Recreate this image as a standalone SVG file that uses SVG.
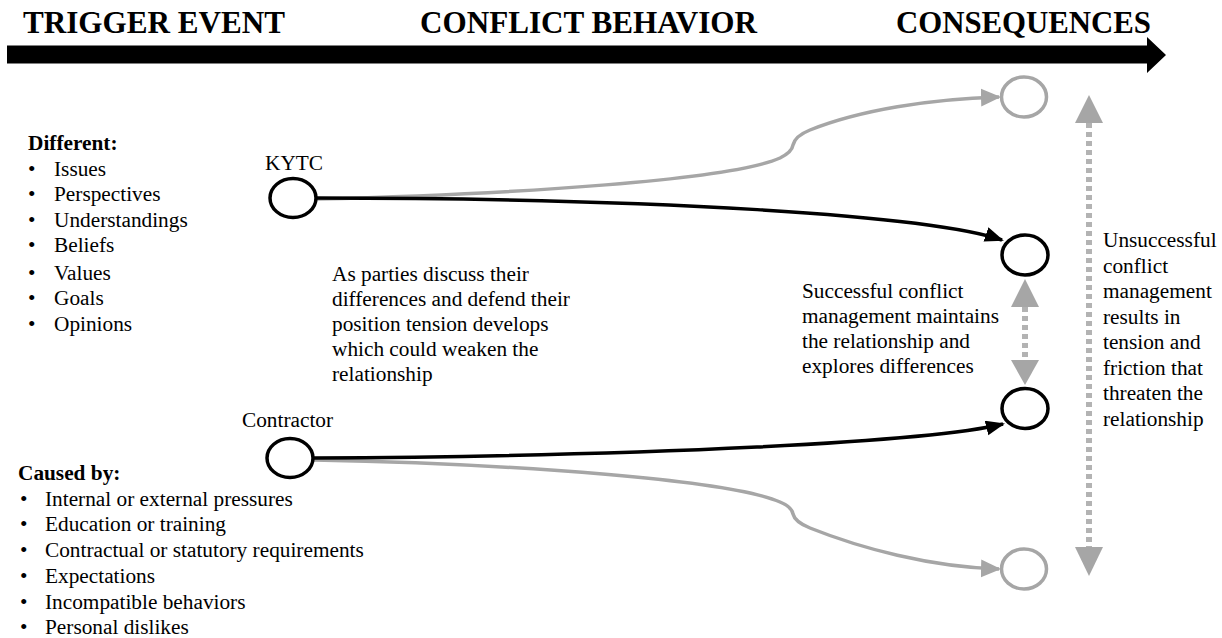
<svg xmlns="http://www.w3.org/2000/svg" width="1222" height="638" viewBox="0 0 1222 638">
<style>
  .t{font-family:"Liberation Serif","Times New Roman",serif;font-size:21.3px;fill:#000}
  .b{font-weight:bold}
  .h{font-family:"Liberation Serif","Times New Roman",serif;font-size:32px;font-weight:bold;fill:#000}
  .nb{fill:#fff;stroke:#000;stroke-width:3.5}
  .ng{fill:#fff;stroke:#a6a6a6;stroke-width:3.5}
  .lb{fill:none;stroke:#000;stroke-width:3.5}
  .lg{fill:none;stroke:#a6a6a6;stroke-width:3.5}
  .dot{fill:none;stroke:#b3b3b3;stroke-width:6;stroke-dasharray:5 4}
  .hd{fill:#a6a6a6}
</style>
<defs>
  <marker id="ab" markerUnits="userSpaceOnUse" markerWidth="20" markerHeight="16" refX="17" refY="7.5" orient="auto">
    <path d="M0,0 L19,7.5 L0,15 z" fill="#000"/>
  </marker>
  <marker id="ag" markerUnits="userSpaceOnUse" markerWidth="22" markerHeight="20" refX="18" refY="9" orient="auto">
    <path d="M0,0 L20,9 L0,18 z" fill="#a6a6a6"/>
  </marker>
</defs>

<g id="header">
  <text class="h" x="23" y="33" textLength="262" lengthAdjust="spacingAndGlyphs">TRIGGER EVENT</text>
  <text class="h" x="420" y="33" textLength="337" lengthAdjust="spacingAndGlyphs">CONFLICT BEHAVIOR</text>
  <text class="h" x="896" y="33" textLength="255" lengthAdjust="spacingAndGlyphs">CONSEQUENCES</text>
  <polygon points="7,45.5 1147,45.5 1147,37 1166,55 1147,73 1147,63.5 7,63.5" fill="#000"/>
</g>

<g id="different-list">
  <text class="t b" x="28" y="150">Different:</text>
  <g class="t">
    <text x="28" y="176">•</text><text x="54" y="176">Issues</text>
    <text x="28" y="201">•</text><text x="54" y="201">Perspectives</text>
    <text x="28" y="227">•</text><text x="54" y="227">Understandings</text>
    <text x="28" y="252">•</text><text x="54" y="252">Beliefs</text>
    <text x="28" y="280">•</text><text x="54" y="280">Values</text>
    <text x="28" y="305">•</text><text x="54" y="305">Goals</text>
    <text x="28" y="331">•</text><text x="54" y="331">Opinions</text>
  </g>
</g>

<g id="caused-list">
  <text class="t b" x="18" y="480">Caused by:</text>
  <g class="t">
    <text x="20" y="505.5">•</text><text x="45" y="505.5">Internal or external pressures</text>
    <text x="20" y="531">•</text><text x="45" y="531">Education or training</text>
    <text x="20" y="557">•</text><text x="45" y="557">Contractual or statutory requirements</text>
    <text x="20" y="583">•</text><text x="45" y="583">Expectations</text>
    <text x="20" y="608.5">•</text><text x="45" y="608.5">Incompatible behaviors</text>
    <text x="20" y="634">•</text><text x="45" y="634">Personal dislikes</text>
  </g>
</g>

<g id="connectors">
  <path class="lg" d="M316,199 C520,194 730,180 780,158 Q792,152 793,145 Q795,136 810,130 C860,110 930,99 999,97" marker-end="url(#ag)"/>
  <path class="lg" d="M314,460 C520,464 730,480 780,502 Q792,507 793,514 Q795,522 810,528 C860,548 930,567 999,569" marker-end="url(#ag)"/>
  <path class="lb" d="M316,198 C650,198 930,215 1002,240" marker-end="url(#ab)"/>
  <path class="lb" d="M313,458 C650,456 930,442 1003,424" marker-end="url(#ab)"/>
  <line class="dot" x1="1025" y1="307" x2="1025" y2="360"/>
  <polygon class="hd" points="1025,279 1011,307 1039,307"/>
  <polygon class="hd" points="1011,360 1039,360 1025,385"/>
  <line class="dot" x1="1089" y1="123" x2="1089" y2="547"/>
  <polygon class="hd" points="1089,95 1075,123 1103,123"/>
  <polygon class="hd" points="1075,547 1103,547 1089,576"/>
</g>

<g id="kytc">
  <ellipse class="nb" cx="293" cy="198" rx="23" ry="19.5"/>
  <text class="t" x="265" y="170">KYTC</text>
</g>
<g id="contractor">
  <ellipse class="nb" cx="290" cy="458" rx="23" ry="19.5"/>
  <text class="t" x="242" y="427">Contractor</text>
</g>
<g id="outcome-top">
  <ellipse class="ng" cx="1024" cy="97" rx="22.5" ry="20"/>
</g>
<g id="outcome-success-1">
  <ellipse class="nb" cx="1025" cy="255" rx="23" ry="20"/>
</g>
<g id="outcome-success-2">
  <ellipse class="nb" cx="1025" cy="408.5" rx="23" ry="20"/>
</g>
<g id="outcome-bottom">
  <ellipse class="ng" cx="1024" cy="569" rx="22.5" ry="20"/>
</g>

<g id="note-behavior" class="t">
  <text x="332" y="281">As parties discuss their</text>
  <text x="332" y="306">differences and defend their</text>
  <text x="332" y="331">position tension develops</text>
  <text x="332" y="356">which could weaken the</text>
  <text x="332" y="381">relationship</text>
</g>

<g id="note-success" class="t">
  <text x="802" y="298">Successful conflict</text>
  <text x="802" y="323">management maintains</text>
  <text x="802" y="348">the relationship and</text>
  <text x="802" y="373">explores differences</text>
</g>

<g id="note-unsuccessful" class="t">
  <text x="1103" y="247">Unsuccessful</text>
  <text x="1103" y="272.5">conflict</text>
  <text x="1103" y="298">management</text>
  <text x="1103" y="323.5">results in</text>
  <text x="1103" y="349">tension and</text>
  <text x="1103" y="374.5">friction that</text>
  <text x="1103" y="400">threaten the</text>
  <text x="1103" y="425.5">relationship</text>
</g>
</svg>
